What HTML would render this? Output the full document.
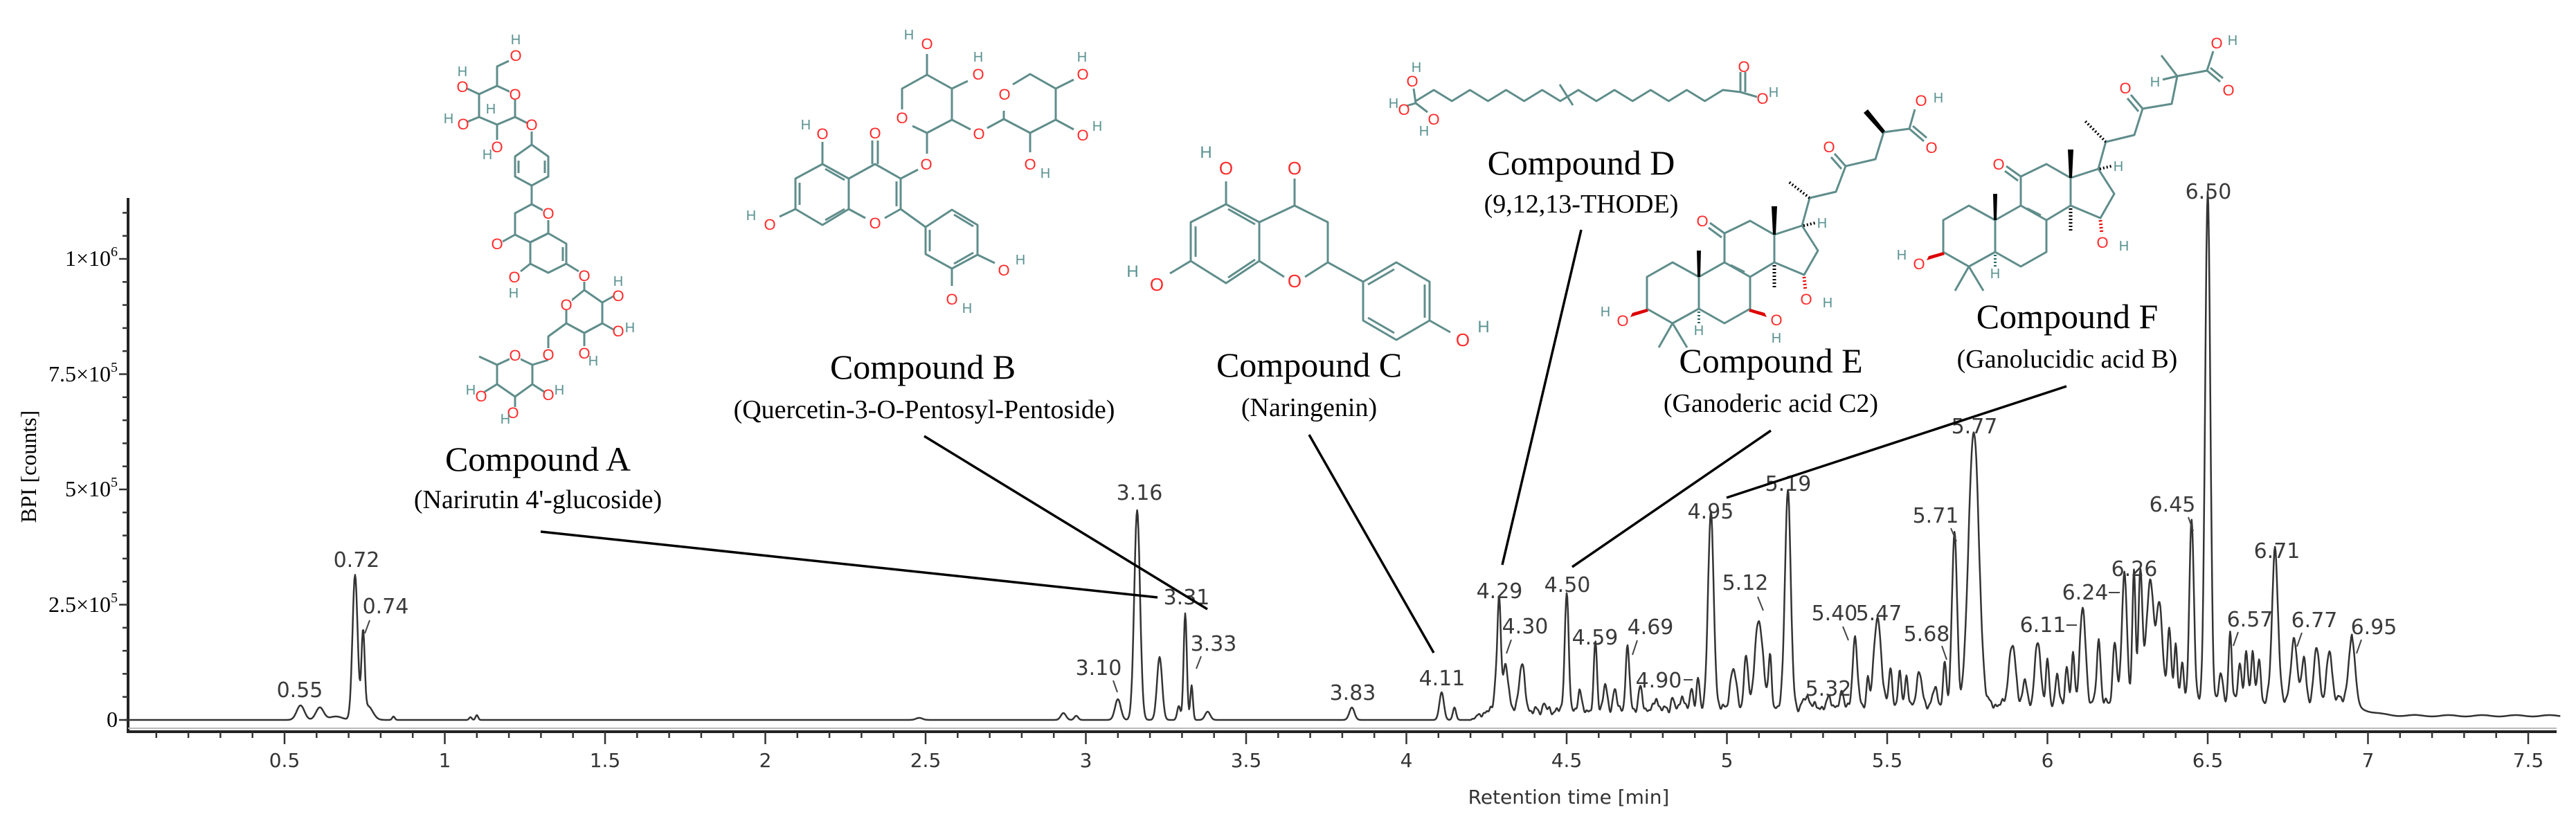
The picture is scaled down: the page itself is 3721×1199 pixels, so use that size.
<!DOCTYPE html>
<html><head><meta charset="utf-8"><style>
html,body{margin:0;padding:0;background:#fff;}
svg{display:block;}
.b{stroke:#5f8d8b;stroke-width:3;fill:none;stroke-linejoin:round;}
.o{fill:#ff2a2a;font:22px "Liberation Sans",sans-serif;text-anchor:middle;}
.h{fill:#5a9290;font:20px "Liberation Sans",sans-serif;text-anchor:middle;}
.pl{fill:#3a3a3a;font:30px "DejaVu Sans","Liberation Sans",sans-serif;text-anchor:middle;}
.ct{font:50px "Liberation Serif",serif;text-anchor:middle;fill:#000;}
.cs{font:38px "Liberation Serif",serif;text-anchor:middle;fill:#000;}
.ld{stroke:#000;stroke-width:3.5;}
.tk{stroke:#333;stroke-width:2.5;}
.pt{stroke:#444;stroke-width:2;}
.xl{fill:#333;font:28px "DejaVu Sans","Liberation Sans",sans-serif;text-anchor:middle;}
.yl{fill:#000;font:32px "Liberation Serif",serif;text-anchor:end;}
</style></head><body>
<svg id="s" width="3721" height="1199" viewBox="0 0 3721 1199" xmlns="http://www.w3.org/2000/svg">
<rect width="3721" height="1199" fill="#fff"/>

<line x1="185" y1="286" x2="185" y2="1059" stroke="#222" stroke-width="4"/>
<line x1="183" y1="1057" x2="3693" y2="1057" stroke="#222" stroke-width="4"/>
<line x1="185" y1="1052" x2="3693" y2="1052" stroke="#bbb" stroke-width="2"/>
<g id="ticks"></g>
<text class="yl" x="170" y="1050">0</text>
<text class="yl" x="170" y="884">2.5×10<tspan font-size="20" dy="-14">5</tspan></text>
<text class="yl" x="170" y="717">5×10<tspan font-size="20" dy="-14">5</tspan></text>
<text class="yl" x="170" y="551">7.5×10<tspan font-size="20" dy="-14">5</tspan></text>
<text class="yl" x="170" y="384">1×10<tspan font-size="20" dy="-14">6</tspan></text>
<text transform="translate(52,674) rotate(-90)" style="font:32px 'Liberation Serif',serif;text-anchor:middle;fill:#000">BPI [counts]</text>
<text class="xl" x="2266" y="1161">Retention time [min]</text>

<path id="trace" d="" fill="none" stroke="#333" stroke-width="2.5" stroke-linejoin="round"/>

<g>
<text class="pl" x="433" y="1007">0.55</text>
<text class="pl" x="515" y="819">0.72</text>
<text class="pl" x="557" y="886">0.74</text><line class="pt" x1="534" y1="896" x2="527" y2="915"/>
<text class="pl" x="1646" y="722">3.16</text>
<text class="pl" x="1714" y="873">3.31</text>
<text class="pl" x="1753" y="940">3.33</text><line class="pt" x1="1735" y1="948" x2="1728" y2="966"/>
<text class="pl" x="1587" y="975">3.10</text><line class="pt" x1="1608" y1="983" x2="1614" y2="1000"/>
<text class="pl" x="1954" y="1011">3.83</text>
<text class="pl" x="2083" y="990">4.11</text>
<text class="pl" x="2166" y="864">4.29</text>
<text class="pl" x="2203" y="915">4.30</text><line class="pt" x1="2183" y1="924" x2="2176" y2="944"/>
<text class="pl" x="2264" y="855">4.50</text>
<text class="pl" x="2304" y="931">4.59</text>
<text class="pl" x="2384" y="916">4.69</text><line class="pt" x1="2365" y1="925" x2="2358" y2="946"/>
<text class="pl" x="2396" y="993">4.90</text><line class="pt" x1="2432" y1="982" x2="2445" y2="982"/>
<text class="pl" x="2471" y="749">4.95</text>
<text class="pl" x="2521" y="852">5.12</text><line class="pt" x1="2539" y1="862" x2="2547" y2="882"/>
<text class="pl" x="2583" y="709">5.19</text>
<text class="pl" x="2641" y="1005">5.32</text>
<text class="pl" x="2650" y="896">5.40</text><line class="pt" x1="2662" y1="905" x2="2670" y2="925"/>
<text class="pl" x="2714" y="896">5.47</text>
<text class="pl" x="2783" y="926">5.68</text><line class="pt" x1="2805" y1="933" x2="2812" y2="953"/>
<text class="pl" x="2796" y="755">5.71</text><line class="pt" x1="2818" y1="763" x2="2826" y2="782"/>
<text class="pl" x="2852" y="626">5.77</text>
<text class="pl" x="2951" y="913">6.11</text><line class="pt" x1="2985" y1="903" x2="3000" y2="903"/>
<text class="pl" x="3012" y="866">6.24</text><line class="pt" x1="3046" y1="856" x2="3062" y2="856"/>
<text class="pl" x="3083" y="832">6.26</text>
<text class="pl" x="3138" y="739">6.45</text><line class="pt" x1="3161" y1="747" x2="3168" y2="767"/>
<text class="pl" x="3190" y="287">6.50</text>
<text class="pl" x="3250" y="905">6.57</text><line class="pt" x1="3233" y1="913" x2="3226" y2="933"/>
<text class="pl" x="3289" y="806">6.71</text>
<text class="pl" x="3343" y="906">6.77</text><line class="pt" x1="3325" y1="914" x2="3318" y2="934"/>
<text class="pl" x="3429" y="916">6.95</text><line class="pt" x1="3411" y1="924" x2="3404" y2="944"/>
</g>

<line class="ld" x1="781" y1="768" x2="1672" y2="863"/>
<line class="ld" x1="1335" y1="630" x2="1744" y2="880"/>
<line class="ld" x1="1891" y1="628" x2="2071" y2="943"/>
<line class="ld" x1="2284" y1="332" x2="2170" y2="816"/>
<line class="ld" x1="2558" y1="622" x2="2271" y2="819"/>
<line class="ld" x1="2985" y1="558" x2="2494" y2="719"/>

<text class="ct" x="777" y="680">Compound  A</text>
<text class="cs" x="777" y="734">(Narirutin 4'-glucoside)</text>
<text class="ct" x="1333" y="547">Compound  B</text>
<text class="cs" x="1335" y="604">(Quercetin-3-O-Pentosyl-Pentoside)</text>
<text class="ct" x="1891" y="544">Compound  C</text>
<text class="cs" x="1891" y="601">(Naringenin)</text>
<text class="ct" x="2284" y="252">Compound  D</text>
<text class="cs" x="2284" y="307">(9,12,13-THODE)</text>
<text class="ct" x="2558" y="538">Compound  E</text>
<text class="cs" x="2558" y="595">(Ganoderic acid C2)</text>
<text class="ct" x="2986" y="474">Compound  F</text>
<text class="cs" x="2986" y="531">(Ganolucidic acid B)</text>

<g>
<polygon class="b" points="718,124 744,136 744,169 718,180 692,169 692,136"/>
<polyline class="b" points="718,124 718,96 735,88"/>
<polyline class="b" points="692,136 675,128"/><polyline class="b" points="692,169 675,176"/>
<polyline class="b" points="718,180 718,202"/><polyline class="b" points="744,169 762,178"/>
<polyline class="b" points="768,190 768,209"/>
<polygon class="b" points="768,209 792,226 792,255 768,268 744,255 744,226"/>
<line class="b" x1="787" y1="232" x2="787" y2="250"/><line class="b" x1="749" y1="232" x2="749" y2="250"/>
<polyline class="b" points="768,268 768,295"/>
<polyline class="b" points="768,295 792,308"/>
<polyline class="b" points="792,318 792,337 766,350 744,339 744,308 768,295"/>
<polyline class="b" points="744,339 726,349"/>
<polygon class="b" points="792,337 818,352 818,381 792,394 766,381 766,350"/>
<line class="b" x1="813" y1="357" x2="813" y2="377"/>
<polyline class="b" points="766,381 752,392"/><polyline class="b" points="818,381 836,392"/>
<polyline class="b" points="844,407 844,419"/>
<polygon class="b" points="844,419 870,437 870,467 844,481 818,467 818,440"/>
<polyline class="b" points="870,437 886,428"/><polyline class="b" points="870,467 886,476"/><polyline class="b" points="844,481 844,500"/>
<polyline class="b" points="818,467 792,486 792,503"/><polyline class="b" points="792,520 769,527"/>
<polygon class="b" points="769,527 744,515 718,527 718,555 744,573 769,555"/>
<polyline class="b" points="718,527 692,515"/><polyline class="b" points="718,555 700,566"/><polyline class="b" points="769,555 786,566"/><polyline class="b" points="744,573 744,588"/>
<rect x="736" y="130" width="16" height="14" fill="#fff"/><text class="o" x="744" y="144">O</text>
<text class="o" x="745" y="88">O</text><text class="h" x="745" y="64">H</text>
<text class="o" x="668" y="133">O</text><text class="h" x="668" y="110">H</text>
<text class="o" x="669" y="187">O</text><text class="h" x="648" y="178">H</text>
<text class="o" x="718" y="220">O</text><text class="h" x="704" y="230">H</text><text class="h" x="709" y="164">H</text>
<text class="o" x="768" y="188">O</text>
<rect x="784" y="300" width="16" height="16" fill="#fff"/><text class="o" x="792" y="316">O</text>
<text class="o" x="718" y="360">O</text>
<text class="o" x="743" y="408">O</text><text class="h" x="742" y="430">H</text>
<text class="o" x="844" y="406">O</text>
<rect x="810" y="432" width="16" height="16" fill="#fff"/><text class="o" x="818" y="448">O</text>
<text class="o" x="893" y="435">O</text><text class="h" x="893" y="413">H</text>
<text class="o" x="893" y="486">O</text><text class="h" x="910" y="480">H</text>
<text class="o" x="844" y="518">O</text><text class="h" x="857" y="528">H</text>
<text class="o" x="792" y="520">O</text>
<rect x="736" y="506" width="16" height="16" fill="#fff"/><text class="o" x="744" y="521">O</text>
<text class="o" x="695" y="580">O</text><text class="h" x="680" y="570">H</text>
<text class="o" x="792" y="578">O</text><text class="h" x="808" y="570">H</text>
<text class="o" x="741" y="604">O</text><text class="h" x="730" y="612">H</text>
</g>

<g>
<polygon class="b" points="1188,237 1226,258 1226,302 1188,325 1149,302 1149,258"/>
<line class="b" x1="1155" y1="264" x2="1155" y2="296"/><line class="b" x1="1192" y1="318" x2="1220" y2="302"/><line class="b" x1="1192" y1="244" x2="1220" y2="260"/>
<polyline class="b" points="1226,258 1264,237 1301,258 1301,302 1278,315"/><polyline class="b" points="1250,315 1226,302"/>
<line class="b" x1="1295" y1="262" x2="1295" y2="298"/>
<line class="b" x1="1260" y1="237" x2="1260" y2="203"/><line class="b" x1="1268" y1="237" x2="1268" y2="203"/>
<line class="b" x1="1188" y1="237" x2="1188" y2="205"/>
<line class="b" x1="1149" y1="302" x2="1126" y2="313"/>
<polygon class="b" points="1337,328 1375,303 1412,325 1412,368 1375,388 1337,367"/>
<line class="b" x1="1343" y1="332" x2="1343" y2="363"/><line class="b" x1="1378" y1="310" x2="1406" y2="327"/><line class="b" x1="1378" y1="381" x2="1406" y2="365"/>
<line class="b" x1="1301" y1="302" x2="1337" y2="328"/>
<line class="b" x1="1412" y1="368" x2="1437" y2="380"/><line class="b" x1="1375" y1="388" x2="1375" y2="413"/>
<line class="b" x1="1301" y1="258" x2="1326" y2="245"/><line class="b" x1="1339" y1="222" x2="1339" y2="192"/>
<polyline class="b" points="1318,182 1339,192 1375,173 1375,128 1339,108 1303,128 1303,158"/>
<line class="b" x1="1339" y1="108" x2="1339" y2="78"/><line class="b" x1="1375" y1="128" x2="1398" y2="117"/>
<line class="b" x1="1375" y1="173" x2="1402" y2="187"/><line class="b" x1="1426" y1="185" x2="1450" y2="172"/>
<polyline class="b" points="1450,160 1450,172 1488,192 1525,173 1525,128 1488,107 1463,122"/>
<line class="b" x1="1525" y1="128" x2="1551" y2="115"/><line class="b" x1="1525" y1="173" x2="1551" y2="187"/><line class="b" x1="1488" y1="192" x2="1488" y2="220"/>
<text class="o" x="1264" y="200">O</text>
<text class="o" x="1188" y="201">O</text><text class="h" x="1164" y="187">H</text>
<text class="o" x="1112" y="332">O</text><text class="h" x="1085" y="318">H</text>
<text class="o" x="1264" y="330">O</text>
<text class="o" x="1450" y="398">O</text><text class="h" x="1474" y="382">H</text>
<text class="o" x="1375" y="440">O</text><text class="h" x="1397" y="452">H</text>
<text class="o" x="1338" y="245">O</text>
<text class="o" x="1303" y="178">O</text>
<text class="o" x="1339" y="71">O</text><text class="h" x="1313" y="57">H</text>
<text class="o" x="1413" y="115">O</text><text class="h" x="1413" y="89">H</text>
<text class="o" x="1414" y="201">O</text>
<text class="o" x="1451" y="144">O</text>
<text class="o" x="1564" y="115">O</text><text class="h" x="1563" y="89">H</text>
<text class="o" x="1564" y="203">O</text><text class="h" x="1585" y="189">H</text>
<text class="o" x="1488" y="245">O</text><text class="h" x="1510" y="257">H</text>
</g>

<g>
<polygon class="b" points="1771,295 1819,321 1819,377 1771,409 1720,377 1720,321"/>
<line class="b" x1="1727" y1="327" x2="1727" y2="371"/><line class="b" x1="1774" y1="302" x2="1813" y2="324"/><line class="b" x1="1774" y1="401" x2="1813" y2="375"/>
<polyline class="b" points="1819,321 1870,297 1918,321 1918,379 1885,400"/><polyline class="b" points="1855,400 1819,377"/>
<line class="b" x1="1870" y1="297" x2="1870" y2="258"/>
<line class="b" x1="1771" y1="295" x2="1771" y2="262"/>
<line class="b" x1="1720" y1="377" x2="1690" y2="395"/>
<polygon class="b" points="1969,407 2017,379 2065,407 2065,463 2017,491 1969,463"/>
<line class="b" x1="2058" y1="411" x2="2058" y2="459"/><line class="b" x1="1976" y1="411" x2="2014" y2="389"/><line class="b" x1="1976" y1="459" x2="2014" y2="481"/>
<line class="b" x1="1918" y1="379" x2="1969" y2="407"/><line class="b" x1="2065" y1="463" x2="2095" y2="480"/>
<text class="o" x="1870" y="252" style="font-size:26px">O</text>
<text class="o" x="1771" y="252" style="font-size:26px">O</text><text class="h" x="1742" y="228" style="font-size:24px">H</text>
<text class="o" x="1671" y="420" style="font-size:26px">O</text><text class="h" x="1636" y="400" style="font-size:24px">H</text>
<text class="o" x="1870" y="415" style="font-size:26px">O</text>
<text class="o" x="2113" y="500" style="font-size:26px">O</text><text class="h" x="2143" y="480" style="font-size:24px">H</text>
</g>

<g>
<polyline class="b" id="dchain" points="2045,149"/>
<line class="b" x1="2045" y1="149" x2="2042" y2="128"/><line class="b" x1="2045" y1="149" x2="2032" y2="153"/><line class="b" x1="2045" y1="149" x2="2062" y2="162"/>
<line class="b" x1="2253" y1="122" x2="2272" y2="152"/>
<line class="b" x1="2514" y1="133" x2="2514" y2="104"/><line class="b" x1="2521" y1="133" x2="2521" y2="104"/><line class="b" x1="2514" y1="133" x2="2538" y2="140"/>
<text class="o" x="2040" y="125">O</text><text class="h" x="2046" y="104">H</text>
<text class="o" x="2028" y="166">O</text><text class="h" x="2013" y="156">H</text>
<text class="o" x="2071" y="180">O</text><text class="h" x="2057" y="196">H</text>
<text class="o" x="2519" y="104">O</text>
<text class="o" x="2546" y="150">O</text><text class="h" x="2562" y="140">H</text>
</g>

<g>
<polygon class="b" points="2416,379 2454,400 2454,446 2416,467 2379,446 2379,400"/>
<polyline class="b" points="2454,400 2491,379 2528,400 2528,446 2491,467 2454,446"/>
<polyline class="b" points="2491,379 2491,337 2528,319 2563,339 2563,379 2528,400"/>
<line class="b" x1="2520" y1="393" x2="2500" y2="383"/>
<polyline class="b" points="2563,339 2603,326 2626,362 2606,397 2563,379"/>
<line class="b" x1="2491" y1="337" x2="2470" y2="322"/><line class="b" x1="2487" y1="343" x2="2468" y2="329"/>
<polygon points="2452,400 2456,400 2457,362 2451,362" fill="#000"/>
<polygon points="2561,339 2565,339 2567,298 2559,298" fill="#000"/>
<line x1="2563" y1="383" x2="2563" y2="418" stroke="#000" stroke-width="5" stroke-dasharray="2,3"/>
<line x1="2606" y1="400" x2="2608" y2="420" stroke="#e00" stroke-width="5" stroke-dasharray="2,3"/>
<polygon points="2379,446 2358,452 2355,458 2381,450" fill="#d00"/>
<polygon points="2528,446 2549,452 2552,458 2526,450" fill="#d00"/>
<line x1="2454" y1="450" x2="2454" y2="468" stroke="#2a6a68" stroke-width="4" stroke-dasharray="2,3"/>
<line class="b" x1="2416" y1="467" x2="2396" y2="502"/><line class="b" x1="2416" y1="467" x2="2437" y2="502"/>
<line class="b" x1="2603" y1="326" x2="2614" y2="286"/>
<line x1="2605" y1="326" x2="2622" y2="322" stroke="#000" stroke-width="4" stroke-dasharray="2,3"/>
<line x1="2614" y1="286" x2="2583" y2="262" stroke="#000" stroke-width="4" stroke-dasharray="2,3"/>
<polyline class="b" points="2614,286 2652,277 2666,240 2709,230 2721,191 2758,186"/>
<line class="b" x1="2666" y1="240" x2="2650" y2="222"/><line class="b" x1="2660" y1="244" x2="2645" y2="227"/>
<polygon points="2719,193 2723,189 2698,158 2692,163" fill="#000"/>
<line class="b" x1="2758" y1="186" x2="2766" y2="158"/><line class="b" x1="2758" y1="186" x2="2779" y2="204"/><line class="b" x1="2763" y1="182" x2="2783" y2="199"/>
<text class="o" x="2459" y="327">O</text>
<text class="o" x="2609" y="440">O</text><text class="h" x="2640" y="444">H</text>
<text class="o" x="2344" y="471">O</text><text class="h" x="2319" y="457">H</text>
<text class="o" x="2566" y="470">O</text><text class="h" x="2566" y="495">H</text>
<text class="h" x="2454" y="484">H</text><text class="h" x="2632" y="329">H</text>
<text class="o" x="2642" y="220">O</text>
<text class="o" x="2790" y="221">O</text>
<text class="o" x="2775" y="153">O</text><text class="h" x="2800" y="148">H</text>
</g>

<g>
<g transform="translate(428,-82)">
<polygon class="b" points="2416,379 2454,400 2454,446 2416,467 2379,446 2379,400"/>
<polyline class="b" points="2454,400 2491,379 2528,400 2528,446 2491,467 2454,446"/>
<polyline class="b" points="2491,379 2491,337 2528,319 2563,339 2563,379 2528,400"/>
<line class="b" x1="2520" y1="393" x2="2500" y2="383"/>
<polyline class="b" points="2563,339 2603,326 2626,362 2606,397 2563,379"/>
<line class="b" x1="2491" y1="337" x2="2470" y2="322"/><line class="b" x1="2487" y1="343" x2="2468" y2="329"/>
<polygon points="2452,400 2456,400 2457,362 2451,362" fill="#000"/>
<polygon points="2561,339 2565,339 2567,298 2559,298" fill="#000"/>
<line x1="2563" y1="383" x2="2563" y2="418" stroke="#000" stroke-width="5" stroke-dasharray="2,3"/>
<line x1="2606" y1="400" x2="2608" y2="420" stroke="#e00" stroke-width="5" stroke-dasharray="2,3"/>
<polygon points="2379,446 2358,452 2355,458 2381,450" fill="#d00"/>
<line x1="2454" y1="450" x2="2454" y2="468" stroke="#2a6a68" stroke-width="4" stroke-dasharray="2,3"/>
<line class="b" x1="2416" y1="467" x2="2396" y2="502"/><line class="b" x1="2416" y1="467" x2="2437" y2="502"/>
<line class="b" x1="2603" y1="326" x2="2614" y2="286"/>
<line x1="2605" y1="326" x2="2622" y2="322" stroke="#000" stroke-width="4" stroke-dasharray="2,3"/>
<text class="o" x="2459" y="327">O</text>
<text class="o" x="2609" y="440">O</text><text class="h" x="2640" y="444">H</text>
<text class="o" x="2344" y="471">O</text><text class="h" x="2319" y="457">H</text>
<text class="h" x="2454" y="484">H</text><text class="h" x="2632" y="329">H</text>
</g>
<line x1="3042" y1="205" x2="3012" y2="175" stroke="#000" stroke-width="4" stroke-dasharray="2,3"/>
<polyline class="b" points="3042,205 3083,195 3095,157 3137,150 3145,110 3188,102"/>
<line class="b" x1="3095" y1="157" x2="3078" y2="137"/><line class="b" x1="3089" y1="161" x2="3073" y2="142"/>
<line class="b" x1="3145" y1="110" x2="3122" y2="80"/><line class="b" x1="3145" y1="110" x2="3124" y2="115"/>
<line class="b" x1="3188" y1="102" x2="3197" y2="74"/><line class="b" x1="3188" y1="102" x2="3207" y2="118"/><line class="b" x1="3193" y1="98" x2="3211" y2="113"/>
<text class="o" x="3070" y="135">O</text><text class="h" x="3113" y="125">H</text>
<text class="o" x="3219" y="138">O</text>
<text class="o" x="3202" y="70">O</text><text class="h" x="3225" y="65">H</text>
</g>
</svg>
<script>
(function(){
function X(t){return 179.5+463*t;}
var g=document.getElementById("ticks"),h="";
for(var i=1;i<=75;i++){var t=i/10,x=X(t),maj=(i%5==0);
 h+='<line class="tk" x1="'+x+'" y1="1057" x2="'+x+'" y2="'+(maj?1075:1066)+'"/>';
 if(maj){var lab=(i%10==0)?String(i/10):(i/10).toFixed(1);h+='<text class="xl" x="'+x+'" y="1108">'+lab+'</text>';}}
for(var j=0;j<=22;j++){var y=1040-j*33.3,mj=(j%5==0);
 h+='<line class="tk" x1="'+(mj?172:177)+'" y1="'+y+'" x2="185" y2="'+y+'"/>';}
g.innerHTML=h;
var pts=[];for(var k=0;k<=18;k++){pts.push((2045+k*26.1).toFixed(1)+","+(k%2?130:146));}
pts[18]="2514,133";
document.getElementById("dchain").setAttribute("points",pts.join(" "));
var P=[[0.55,21,.012],[0.61,18,.012],[0.66,5,.02],[0.72,209,.008],[0.745,118,.005],[0.76,20,.015],[0.84,5,.004],[1.08,4,.004],[1.10,7,.004],[2.48,3,.01],[2.93,10,.008],[2.97,6,.006],[3.10,30,.009],[3.16,303,.009],[3.23,91,.008],[3.29,20,.005],[3.31,154,.005],[3.33,50,.004],[3.38,12,.008],[3.83,18,.008],[4.11,40,.007],[4.15,18,.005],[4.28,50,.006],[4.29,150,.005],[4.31,70,.008],[4.36,67,.009],[4.43,12,.004],[4.50,173,.006],[4.54,30,.005],[4.59,97,.005],[4.62,35,.006],[4.65,28,.006],[4.69,88,.006],[4.73,30,.006],[4.78,18,.005],[4.83,15,.005],[4.86,22,.005],[4.89,30,.005],[4.91,40,.005],[4.95,279,.009],[5.02,55,.01],[5.06,75,.006],[5.10,125,.013],[5.135,70,.005],[5.19,315,.009],[5.25,15,.01],[5.32,15,.006],[5.36,25,.005],[5.40,103,.007],[5.44,45,.004],[5.47,130,.011],[5.51,60,.005],[5.54,50,.005],[5.56,40,.005],[5.60,45,.009],[5.65,30,.006],[5.68,60,.005],[5.71,248,.008],[5.77,398,.016],[5.89,85,.011],[5.93,35,.006],[5.97,90,.009],[6.00,60,.005],[6.03,45,.005],[6.06,55,.005],[6.08,70,.005],[6.11,137,.009],[6.16,92,.006],[6.21,90,.006],[6.24,190,.008],[6.27,195,.005],[6.29,185,.006],[6.32,175,.012],[6.35,140,.009],[6.38,110,.006],[6.40,80,.005],[6.42,60,.005],[6.45,265,.007],[6.50,738,.008],[6.54,40,.006],[6.57,100,.005],[6.60,60,.005],[6.62,70,.005],[6.64,75,.005],[6.66,60,.005],[6.71,221,.009],[6.77,85,.01],[6.80,60,.006],[6.84,75,.008],[6.88,70,.008],[6.95,87,.01]];
function base(t){
 if(t<4.2)return 0;
 var ramp=Math.min(1,(t-4.2)/0.05);
 var b=(t<5.9?12+(t-4.2)*6:22+(t-5.9)*8)*ramp;
 var n=3*Math.sin(t*173)+2.5*Math.sin(t*311+1.3)+1.5*Math.sin(t*547+0.7);
 if(t<=6.95)return b+n*ramp;
 var b0=22+(6.95-5.9)*8;
 return 6+(b0-6)*Math.exp(-(t-6.95)*25)+1*Math.sin(t*60);
}
var d="";
for(var t=0.0;t<=7.6;t+=0.002){var v=0;
 for(var q=0;q<P.length;q++){var z=(t-P[q][0])/P[q][2];if(z>-6&&z<6)v+=P[q][1]*Math.exp(-0.5*z*z);}
 v+=base(t);
 var y=1040-v; d+=(d?"L":"M")+X(t).toFixed(1)+","+y.toFixed(1);}
document.getElementById("trace").setAttribute("d",d);
})();
</script>
</body></html>
